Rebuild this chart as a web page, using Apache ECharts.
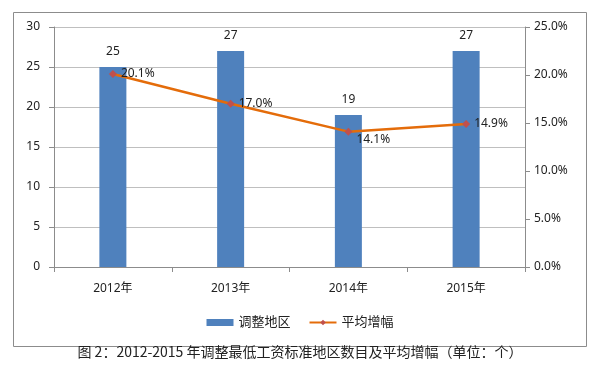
<!DOCTYPE html>
<html>
<head>
<meta charset="utf-8">
<script src="https://cdn.jsdelivr.net/npm/echarts@6/dist/echarts.min.js"></script>
<style>
    html, body { margin: 0; padding: 0; background: #fff; }
    #main { width: 600px; height: 376px; }
</style>
</head>
<body>
<div id="main"></div>
<script>
// 数据
const years = ['2012年', '2013年', '2014年', '2015年'];
const regionCount = [25, 27, 19, 27];
const avgIncrease = [20.1, 17.0, 14.1, 14.9];

const font = '"Noto Sans", "Noto Sans CJK SC", sans-serif';
const myEcharts = echarts.init(document.getElementById('main'));

// 2014年的标签在点的右下方
const lineData = avgIncrease.map((v, i) => i === 2
    ? { value: v, label: { offset: [0, 8] } }
    : v);

const option = {
    animation: false,
    textStyle: { fontFamily: font },
    graphic: [{
        // 外框
        type: 'rect',
        shape: { x: 13.5, y: 12.5, width: 573, height: 334 },
        style: { fill: 'none', stroke: '#8c8c8c', lineWidth: 1 }
    }, {
        type: 'text',
        left: 'center',
        top: 345,
        style: {
            text: '图 2：2012-2015 年调整最低工资标准地区数目及平均增幅（单位：个）',
            font: '14px "Noto Sans CJK SC", serif',
            fill: '#222'
        }
    }],
    grid: { left: 54, right: 75, top: 27, bottom: 109 },
    legend: {
        bottom: 42,
        left: 'center',
        itemGap: 18,
        itemWidth: 27,
        itemHeight: 7,
        textStyle: { fontSize: 13, color: '#222', fontFamily: font },
        data: [
            { name: '调整地区', icon: 'rect' },
            { name: '平均增幅' }
        ]
    },
    xAxis: {
        type: 'category',
        data: years,
        axisLine: { lineStyle: { color: '#8c8c8c' } },
        axisTick: { show: true, length: 5, lineStyle: { color: '#8c8c8c' } },
        axisLabel: { color: '#222', fontSize: 12, margin: 16 }
    },
    yAxis: [{
        type: 'value',
        min: 0,
        max: 30,
        interval: 5,
        axisLine: { show: true, lineStyle: { color: '#8c8c8c' } },
        axisTick: { show: true, length: 5, lineStyle: { color: '#8c8c8c' } },
        axisLabel: { color: '#222', fontSize: 12, margin: 14 },
        splitLine: { lineStyle: { color: '#bfbfbf' } }
    }, {
        type: 'value',
        min: 0,
        max: 25,
        interval: 5,
        position: 'right',
        axisLine: { show: true, lineStyle: { color: '#8c8c8c' } },
        axisTick: { show: true, length: 5, lineStyle: { color: '#8c8c8c' } },
        axisLabel: {
            color: '#222',
            fontSize: 12,
            margin: 9,
            formatter: v => v.toFixed(1) + '%'
        },
        splitLine: { show: false }
    }],
    series: [{
        name: '调整地区',
        type: 'bar',
        barWidth: 27,
        yAxisIndex: 0,
        itemStyle: { color: '#4f81bd' },
        label: {
            show: true,
            position: 'top',
            distance: 9,
            color: '#222',
            fontSize: 12
        },
        data: regionCount
    }, {
        name: '平均增幅',
        type: 'line',
        yAxisIndex: 1,
        symbol: 'diamond',
        symbolSize: 8,
        lineStyle: { color: '#e46c0a', width: 2.5 },
        itemStyle: { color: '#c0504d' },
        label: {
            show: true,
            position: 'right',
            distance: 4,
            color: '#222',
            fontSize: 12,
            formatter: p => p.value.toFixed(1) + '%'
        },
        data: lineData
    }]
};

myEcharts.setOption(option);
</script>
</body>
</html>
